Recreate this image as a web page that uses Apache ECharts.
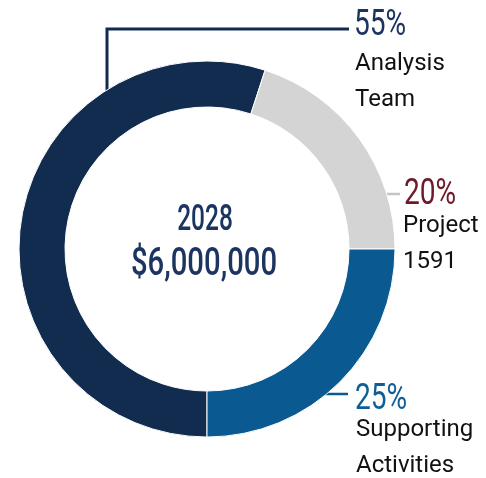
<!DOCTYPE html>
<html>
<head>
<meta charset="utf-8">
<script src="https://cdn.jsdelivr.net/npm/echarts@6/dist/echarts.min.js"></script>
<style>
  html, body { margin: 0; padding: 0; background: #fff; }
  #chart { width: 486px; height: 478px; }
</style>
</head>
<body>
<div id="chart"></div>
<script>
// data
const categories = ['Analysis Team', 'Project 1591', 'Supporting Activities'];
const shares = [55, 20, 25];
const budgetYear = '2028';
const budgetTotal = 6000000;

const sliceColors = ['#112c4f', '#d4d4d4', '#0a5a91'];
const pctColors = ['#1b3560', '#6e1a2a', '#0f5f96'];
const lineColors = ['#112c4f', '#c4c4c4', '#0a5a91'];
const navyText = '#1b3560';

// label placement: names block top-left, percent text anchor, leader line
const labelSpots = [
    { x: 355, y: 46, px: 354, py: 26, line: [[107, 110], [107, 29], [349, 29]] },
    { x: 403, y: 208, px: 404, py: 195, line: [[384, 194], [392, 194], [400, 194]] },
    { x: 356, y: 412, px: 355, py: 400, line: [[290, 394], [320, 394], [348, 394]] },
];

const chart = echarts.init(document.getElementById('chart'), null, { renderer: 'canvas' });

const fmtMoney = '$' + budgetTotal.toLocaleString('en-US');

// condensed look: Roboto squeezed horizontally
function squeezed(text, x, y, size, sx, color, align, weight) {
    return {
        type: 'text',
        x: x,
        y: y,
        scaleX: sx,
        silent: true,
        style: {
            text: text,
            fontFamily: 'Roboto',
            fontWeight: weight,
            fontSize: size,
            fill: color,
            align: align,
            verticalAlign: 'middle',
        },
    };
}

const graphics = [
    squeezed(budgetYear, 205, 221, 36, 0.68, navyText, 'center', 500),
    squeezed(fmtMoney, 204, 265, 38, 0.77, navyText, 'center', 500),
];
shares.forEach((v, i) => {
    const s = labelSpots[i];
    graphics.push(squeezed(v + '%', s.px, s.py, 37, 0.76, pctColors[i], 'left', 'normal'));
});

const data = categories.map((name, i) => ({
    name: name,
    value: shares[i],
    itemStyle: { color: sliceColors[i] },
    labelLine: { lineStyle: { color: lineColors[i], width: i === 0 ? 3 : 2.5 } },
}));

chart.setOption({
    animation: false,
    graphic: graphics,
    series: [
        {
            type: 'pie',
            center: [207, 249],
            radius: [142, 188],
            startAngle: 270,
            clockwise: true,
            itemStyle: { borderColor: '#fff', borderWidth: 1 },
            label: {
                show: true,
                position: 'outside',
                overflow: 'none',
                formatter: (p) => p.name.split(' ').map((w) => '{n|' + w + '}').join('\n'),
                rich: {
                    n: { fontFamily: 'Roboto', fontSize: 24, color: '#111', lineHeight: 36 },
                },
            },
            labelLine: { show: true },
            labelLayout: (params) => {
                const s = labelSpots[params.dataIndex];
                return {
                    x: s.x,
                    y: s.y,
                    align: 'left',
                    verticalAlign: 'top',
                    labelLinePoints: s.line,
                };
            },
            data: data,
        },
    ],
});
</script>
</body>
</html>
